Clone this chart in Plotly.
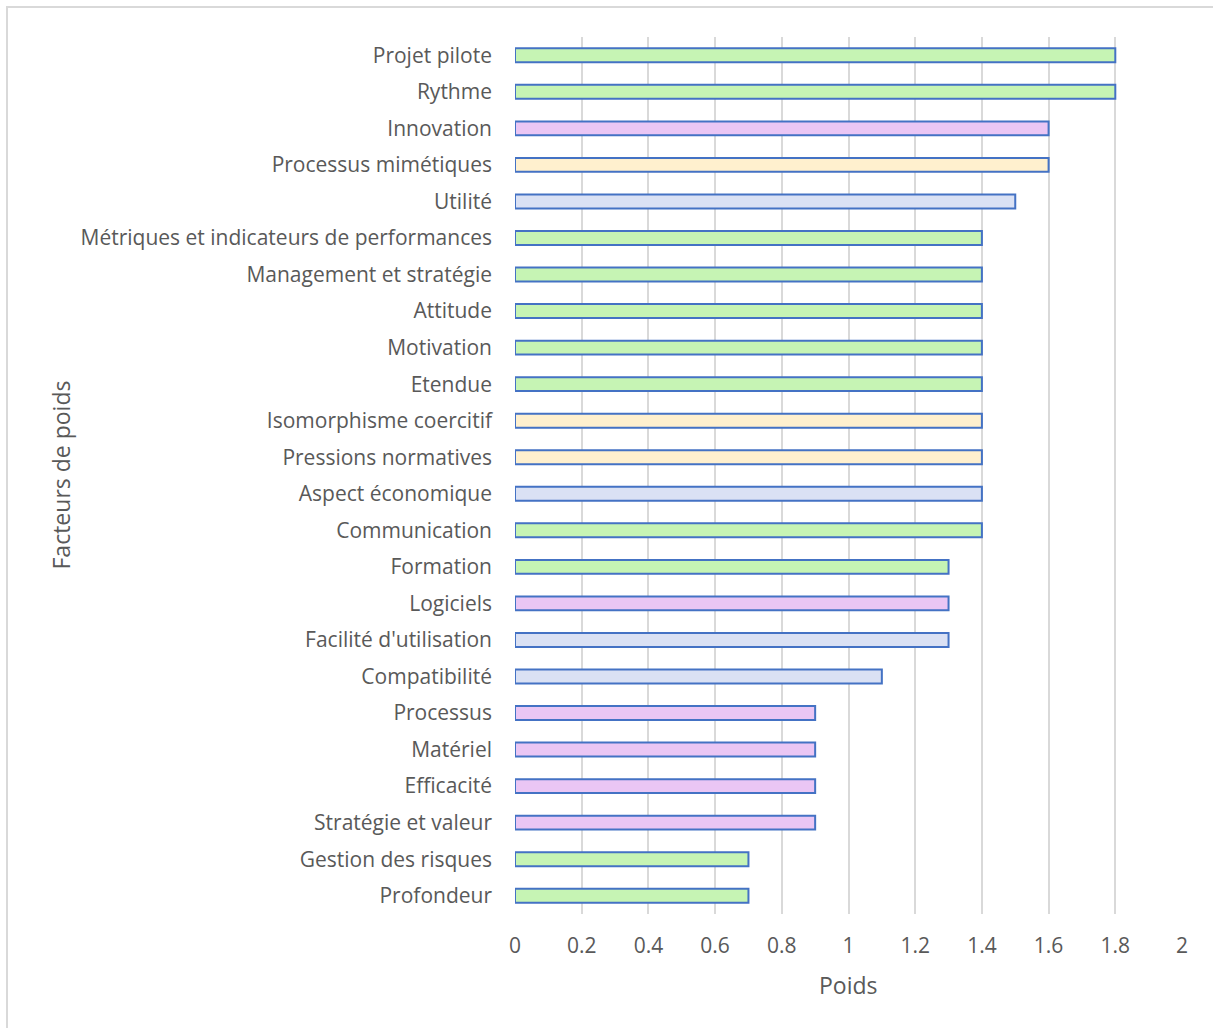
import plotly.graph_objects as go

categories = [
    "Projet pilote", "Rythme", "Innovation", "Processus mimétiques", "Utilité",
    "Métriques et indicateurs de performances", "Management et stratégie", "Attitude",
    "Motivation", "Etendue", "Isomorphisme coercitif", "Pressions normatives",
    "Aspect économique", "Communication", "Formation", "Logiciels",
    "Facilité d'utilisation", "Compatibilité", "Processus", "Matériel",
    "Efficacité", "Stratégie et valeur", "Gestion des risques", "Profondeur",
]
values = [1.8, 1.8, 1.6, 1.6, 1.5, 1.4, 1.4, 1.4, 1.4, 1.4, 1.4, 1.4, 1.4, 1.4,
          1.3, 1.3, 1.3, 1.1, 0.9, 0.9, 0.9, 0.9, 0.7, 0.7]
groups = ["g", "g", "p", "y", "b", "g", "g", "g", "g", "g", "y", "y", "b", "g",
          "g", "p", "b", "b", "p", "p", "p", "p", "g", "g"]
x_ticks = [0, 0.2, 0.4, 0.6, 0.8, 1, 1.2, 1.4, 1.6, 1.8, 2]

palette = {"g": "#C6F4B4", "p": "#EAC6F4", "y": "#FFF0CE", "b": "#DAE1F4"}
colors = [palette[g] for g in groups]

fig = go.Figure(go.Bar(
    x=values, y=categories, orientation="h",
    marker=dict(color=colors, line=dict(color="#4472C4", width=2)),
    width=0.38,
))

W, H = 1213, 1028
L, R, T, B = 515, 31, 37, 114
pw = W - L - R
ph = H - T - B

font = "Open Sans"
fig.update_layout(
    width=W, height=H,
    margin=dict(l=L, r=R, t=T, b=B),
    paper_bgcolor="white", plot_bgcolor="white",
    showlegend=False,
    font=dict(family=font, color="#595959", size=20),
    xaxis=dict(
        range=[0, 2], tickvals=x_ticks, ticktext=[f"{v:g}" for v in x_ticks],
        showgrid=True, gridcolor="#D9D9D9", gridwidth=2, zeroline=False,
        showline=False, ticks="", ticklabelstandoff=17,
        tickfont=dict(size=21, color="#595959"),
        title=None,
    ),
    yaxis=dict(
        categoryorder="array", categoryarray=categories[::-1],
        range=[-0.5, len(categories) - 0.5],
        showgrid=False, zeroline=False, showline=False, ticks="",
        ticklabelstandoff=22,
        tickfont=dict(size=21, color="#595959"),
        title=None,
    ),
    shapes=[dict(
        type="rect", xref="paper", yref="paper",
        x0=(7 - L) / pw, x1=(W + 5 - L) / pw,
        y0=(H - B - (H + 5)) / ph, y1=(H - B - 7) / ph,
        line=dict(color="#D9D9D9", width=2), fillcolor="rgba(0,0,0,0)", layer="below",
    )],
)
fig.add_annotation(
    text="Facteurs de poids", xref="paper", yref="paper",
    x=(60 - L) / pw, y=0.5, textangle=-90, showarrow=False,
    font=dict(size=23, color="#595959", family=font), xanchor="center", yanchor="middle",
)
fig.add_annotation(
    text="Poids", xref="paper", yref="paper",
    x=0.5, y=-(985 - (H - B)) / ph, showarrow=False,
    font=dict(size=23, color="#595959", family=font), xanchor="center", yanchor="middle",
)

fig.write_html("out.html")
